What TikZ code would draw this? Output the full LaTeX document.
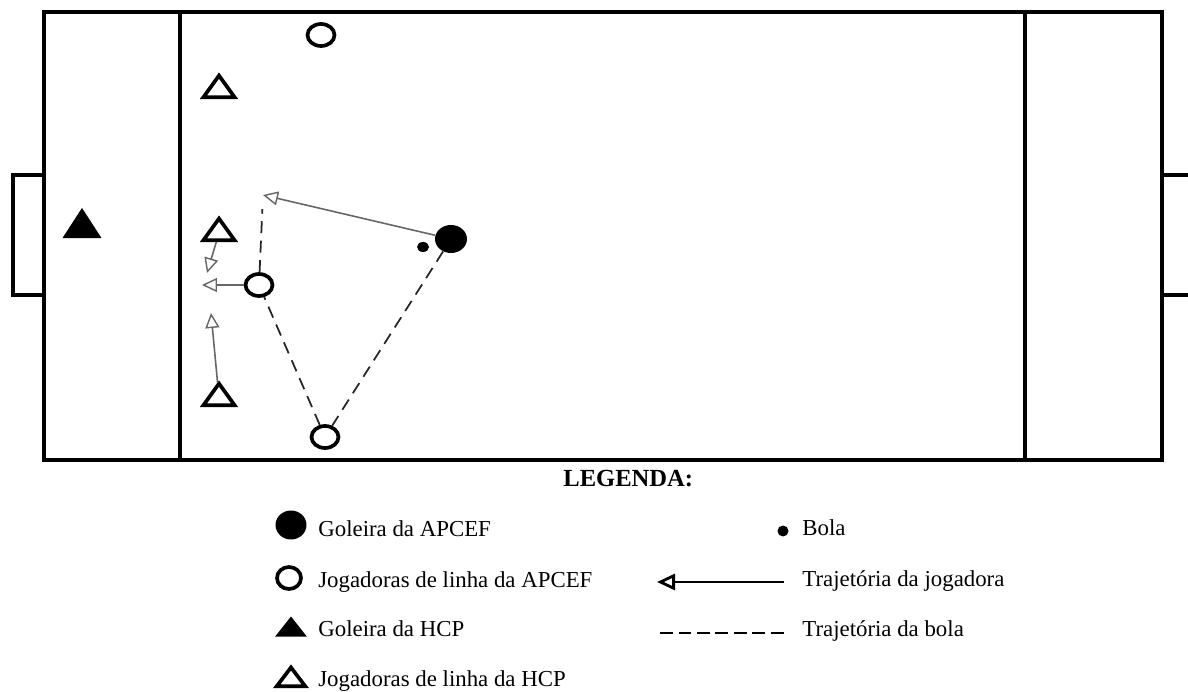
\documentclass[tikz,border=0pt]{standalone}
\usepackage{fontspec}
\setmainfont{Liberation Serif}
\usetikzlibrary{arrows.meta,shapes.geometric}

\begin{document}
\begin{tikzpicture}[x=0.02cm,y=-0.02cm,
  linha/.style={line width=2.2pt},
  apcef/.style={ellipse,draw,line width=2.1pt,minimum width=0.54cm,minimum height=0.44cm,inner sep=0pt},
  goleira/.style={ellipse,fill,minimum width=0.64cm,minimum height=0.56cm,inner sep=0pt},
  hcp/.style={regular polygon,regular polygon sides=3,draw,line width=2.1pt,minimum size=0.72cm,inner sep=0pt,yscale=0.8},
  ghcp/.style={regular polygon,regular polygon sides=3,fill,minimum size=0.9cm,inner sep=0pt,yscale=0.89},
  bola/.style={ellipse,fill,minimum width=0.24cm,minimum height=0.2cm,inner sep=0pt},
  corre/.style={draw=black!60,line width=0.9pt,-{Triangle[length=0.3cm,width=0.28cm,fill=white,line width=0.8pt]}},
  passe/.style={draw=black!85,line width=1pt,dash pattern=on 0.24cm off 0.15cm},
  leg/.style={anchor=base west,font=\fontsize{13}{15}\selectfont,inner sep=0pt}]
\useasboundingbox (0,0) rectangle (1188,692);

\draw[linha] (44,12) rectangle (1162,460);
\draw[linha] (180,12) -- (180,460) (1025,12) -- (1025,460);
\draw[linha] (44,175) -| (13,295) -- (44,295);
\draw[linha] (1192,175) -- (1162,175) (1162,295) -- (1192,295);

\node[apcef] (a1) at (321,35) {};
\node[apcef] (a2) at (259,285) {};
\node[apcef] (a3) at (325,437) {};
\node[goleira] (g) at (451,239) {};
\node[bola] (b) at (423,247) {};
\node[hcp] (h1) at (219,90) {};
\node[hcp] (h2) at (219,233) {};
\node[hcp] (h3) at (219,398) {};
\node[ghcp] (gh) at (82,228) {};

\coordinate (t1) at (263,195);
\coordinate (t2) at (207,273);
\coordinate (t3) at (202,285);
\coordinate (t4) at (211,313);

\path[corre] (g) -- (t1);
\path[corre] (h2) -- (t2);
\path[corre] (a2) -- (t3);
\path[corre] (h3) -- (t4);
\path[passe] (g) -- (a3);
\path[passe] (a3) -- (a2);
\path[passe,shorten >=8\pgflinewidth] (a2) -- (t1);

\node[font=\bfseries\fontsize{14}{16}\selectfont,anchor=base west,inner sep=0pt] (titulo) at (563,487) {LEGENDA:};

\node[goleira,minimum width=0.62cm,minimum height=0.58cm] (lg) at (291,525) {};
\node[apcef,minimum width=0.48cm,minimum height=0.44cm] (la) at (289,578) {};
\node[ghcp,minimum size=0.74cm,yscale=0.82] (lgh) at (291,630) {};
\node[hcp,minimum size=0.66cm,yscale=0.95] (lh) at (291,680) {};
\node[leg] (lgt) at (318,537) {Goleira da APCEF};
\node[leg] (lat) at (318,588) {Jogadoras de linha da APCEF};
\node[leg] (lght) at (318,637) {Goleira da HCP};
\node[leg] (lht) at (318,687) {Jogadoras de linha da HCP};

\node[bola,minimum width=0.22cm,minimum height=0.22cm] (lb) at (783,531) {};
\coordinate (lc1) at (784,582);
\coordinate (lc2) at (657,582);
\coordinate (lp1) at (660,633);
\coordinate (lp2) at (784,633);
\draw[line width=0.8pt,-{Triangle[length=0.36cm,width=0.32cm,fill=white,line width=1.6pt]}] (lc1) -- (lc2);
\draw[line width=1.3pt,dash pattern=on 0.26cm off 0.11cm] (lp1) -- (lp2);
\node[leg] (lbt) at (802,536) {Bola};
\node[leg] (lct) at (802,587) {Trajetória da jogadora};
\node[leg] (lpt) at (802,637) {Trajetória da bola};
\end{tikzpicture}
\end{document}
